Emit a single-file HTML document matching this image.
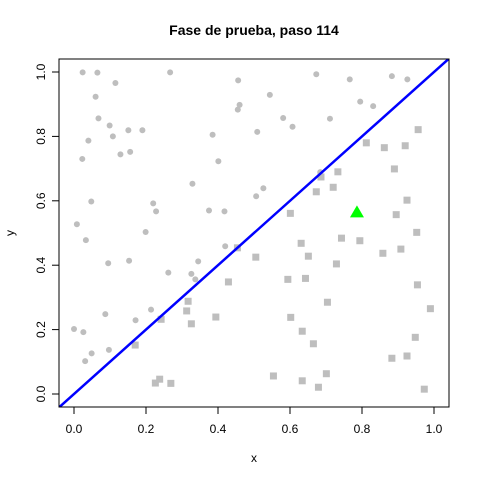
<!DOCTYPE html>
<html><head><meta charset="utf-8"><style>
html,body{margin:0;padding:0;background:#fff}
svg{display:block;font-family:"Liberation Sans",sans-serif}
</style></head><body>
<svg id="c" width="480" height="480">
<rect width="480" height="480" fill="#fff"/>
<text x="254" y="35" text-anchor="middle" font-size="14" font-weight="bold">Fase de prueba, paso 114</text>
<text x="254" y="462" text-anchor="middle" font-size="12">x</text>
<text x="14" y="233" text-anchor="middle" font-size="12" transform="rotate(-90 14 233)">y</text>
<defs><clipPath id="pc"><rect x="59" y="59" width="390" height="348"/></clipPath></defs>
<g id="marks" clip-path="url(#pc)"></g>
<rect x="59" y="59" width="390" height="348" fill="none" stroke="#000" stroke-width="1"/>
<g id="axes"></g>
</svg>
<script>
const circX=[.024,.065,.267,.456,.115,.060,.460,.455,.068,.099,.151,.190,.108,.385,.040,.129,.156,.023,.401,.329,.048,.220,.228,.375,.418,.008,.199,.673,.766,.883,.926,.544,.795,.831,.581,.711,.607,.509,.526,.506,.684,.033,.095,.153,.262,.326,.345,.420,.337,.087,.214,.171,.000,.026,.049,.031,.097];
const circY=[.999,.998,.999,.974,.966,.923,.898,.883,.856,.834,.819,.819,.800,.805,.787,.744,.752,.730,.723,.653,.598,.592,.567,.570,.567,.527,.503,.993,.977,.987,.977,.929,.908,.894,.857,.855,.830,.814,.639,.614,.689,.478,.406,.414,.377,.373,.412,.459,.356,.248,.262,.229,.202,.192,.126,.102,.137];
const sqX=[.956,.812,.862,.920,.733,.686,.890,.720,.673,.925,.601,.895,.952,.454,.429,.317,.313,.242,.326,.394,.170,.226,.238,.269,.505,.631,.743,.794,.858,.908,.651,.729,.594,.643,.954,.704,.990,.602,.634,.665,.948,.883,.925,.554,.634,.701,.679,.973];
const sqY=[.821,.780,.765,.771,.690,.674,.699,.642,.628,.602,.561,.557,.502,.454,.348,.288,.258,.232,.218,.239,.152,.034,.046,.033,.425,.468,.484,.476,.437,.450,.428,.404,.356,.359,.339,.285,.265,.238,.195,.156,.176,.111,.118,.056,.041,.063,.021,.015];
const triX=[0.786];
const triY=[0.564];
const xTicks=[0,0.2,0.4,0.6,0.8,1];
const xTickLabels=["0.0","0.2","0.4","0.6","0.8","1.0"];
const yTicks=[0,0.2,0.4,0.6,0.8,1];
const yTickLabels=["0.0","0.2","0.4","0.6","0.8","1.0"];
const NS="http://www.w3.org/2000/svg";
const sx=v=>74+v*360, sy=v=>394-v*322;
function mk(t,a,p){const e=document.createElementNS(NS,t);for(const k in a)e.setAttribute(k,a[k]);p.appendChild(e);return e;}
const m=document.getElementById('marks'), ax=document.getElementById('axes');
circX.forEach((v,i)=>{const e=mk('circle',{cx:sx(v),cy:sy(circY[i]),r:3,fill:'#bebebe'},m);

});
sqX.forEach((v,i)=>{const e=mk('rect',{x:sx(v)-3.5,y:sy(sqY[i])-3.5,width:7,height:7,fill:'#bebebe'},m);

});
const ln=mk('line',{x1:sx(-0.1),y1:sy(-0.1),x2:sx(1.1),y2:sy(1.1),stroke:'#0000ff','stroke-width':2.5},m);


triX.forEach((v,i)=>{const x=sx(v),y=sy(triY[i]);const e=mk('polygon',{points:`${x},${y-7} ${x-7},${y+5} ${x+7},${y+5}`,fill:'#00ff00'},m);

});
mk('line',{x1:sx(0),y1:407,x2:sx(1),y2:407,stroke:'#000'},ax);
xTicks.forEach((v,i)=>{mk('line',{x1:sx(v),y1:407,x2:sx(v),y2:414,stroke:'#000'},ax);
const t=mk('text',{x:sx(v),y:433,'text-anchor':'middle','font-size':12},ax);t.textContent=xTickLabels[i];

});
mk('line',{x1:59,y1:sy(0),x2:59,y2:sy(1),stroke:'#000'},ax);
yTicks.forEach((v,i)=>{mk('line',{x1:52,y1:sy(v),x2:59,y2:sy(v),stroke:'#000'},ax);
const t=mk('text',{x:45,y:sy(v),'text-anchor':'middle','font-size':12,transform:`rotate(-90 45 ${sy(v)})`},ax);t.textContent=yTickLabels[i];

});
</script>
</body></html>
